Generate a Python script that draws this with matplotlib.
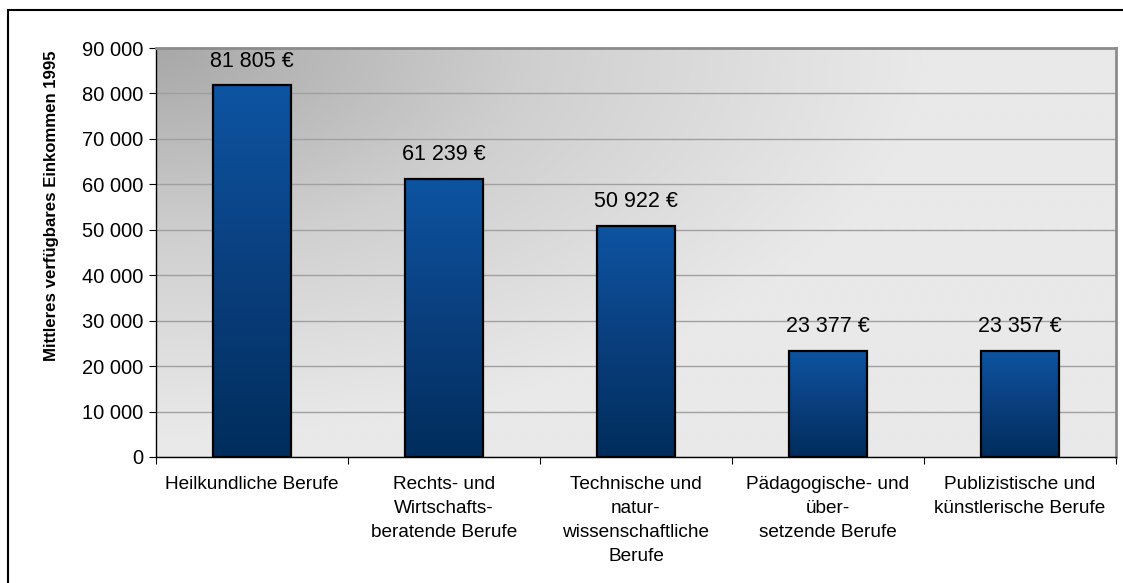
import numpy as np
import matplotlib.pyplot as plt
from matplotlib.patches import Rectangle
from matplotlib.colors import LinearSegmentedColormap

plt.rcParams['font.family'] = ['Liberation Sans', 'DejaVu Sans']

kategorien = ["Heilkundliche Berufe",
              "Rechts- und\nWirtschafts-\nberatende Berufe",
              "Technische und\nnatur-\nwissenschaftliche\nBerufe",
              "Pädagogische- und\nüber-\nsetzende Berufe",
              "Publizistische und\nkünstlerische Berufe"]
einkommen = [81805, 61239, 50922, 23377, 23357]
ytick_werte = [0, 10000, 20000, 30000, 40000, 50000, 60000, 70000, 80000, 90000]

def fmt(v):
    return f"{v:,}".replace(",", " ")

fig = plt.figure(figsize=(11.23, 5.83), dpi=100)
ax = fig.add_axes([156/1123, 1 - 457/583, 960/1123, 409/583])

# Hintergrundverlauf (dunkel oben links, hell nach rechts/unten)
gx, gy = np.meshgrid(np.linspace(0, 1, 300), np.linspace(0, 1, 200))
t = np.clip(np.sqrt((gx / 0.8) ** 2 + (gy / 0.95) ** 2), 0, 1)
bg_cmap = LinearSegmentedColormap.from_list("bg", ["#a8a8a8", "#d0d0d0", "#e9e9e9"])
ax.imshow(t, cmap=bg_cmap, extent=[-0.5, 4.5, 0, 90000], origin='upper', aspect='auto',
          zorder=0, interpolation='bilinear')

ax.set_ylim(0, 90000)
ax.set_yticks(ytick_werte)
ax.set_yticklabels([fmt(v) for v in ytick_werte], fontsize=14.5)
ax.yaxis.grid(True, color="#a0a0a0", linewidth=1.0, zorder=1)
ax.set_axisbelow(True)

bar_cmap = LinearSegmentedColormap.from_list("bar", ["#002d5c", "#0a3f7e", "#0d54a2"])
bw = 0.41
for i, v in enumerate(einkommen):
    grad = np.linspace(0, 1, 256).reshape(-1, 1)
    ax.imshow(grad, cmap=bar_cmap, extent=[i - bw/2, i + bw/2, 0, v], origin='lower',
              aspect='auto', zorder=2, interpolation='bilinear')
    ax.add_patch(Rectangle((i - bw/2, 0), bw, v, fill=False, edgecolor='black',
                           linewidth=1.6, zorder=3))
    ax.text(i, v + 5300, fmt(v) + " €", ha='center', va='center', fontsize=15.5, zorder=4)

ax.set_xlim(-0.5, 4.5)
ax.set_ylim(0, 90000)

ax.set_xticks(np.arange(-0.5, 5, 1))
ax.set_xticklabels([])
ax.tick_params(axis='x', length=5, direction='out')
ax.tick_params(axis='y', length=5, direction='out', pad=4)
ax.set_xticks(np.arange(5), minor=True)
ax.set_xticklabels(kategorien, minor=True, fontsize=13.7, linespacing=1.52)
ax.tick_params(axis='x', which='minor', length=0, pad=14)

for s in ['top', 'right']:
    ax.spines[s].set_color('#8c8c8c')
    ax.spines[s].set_linewidth(2)
ax.spines['left'].set_linewidth(1.0)
ax.spines['bottom'].set_linewidth(1.0)

ax.set_ylabel("Mittleres verfügbares Einkommen 1995", fontsize=12.1, fontweight='bold')
ax.yaxis.set_label_coords(-(156 - 51) / 960, (457 - 206) / 409)
ax.yaxis.label.set_va('center')

# Rahmen um die Grafik
fig.patches.append(Rectangle((8/1123, -0.1), 1.2, 1 - 10/583 + 0.1, transform=fig.transFigure,
                             fill=False, edgecolor='black', linewidth=1.5))

fig.savefig("out.png", dpi=100)
